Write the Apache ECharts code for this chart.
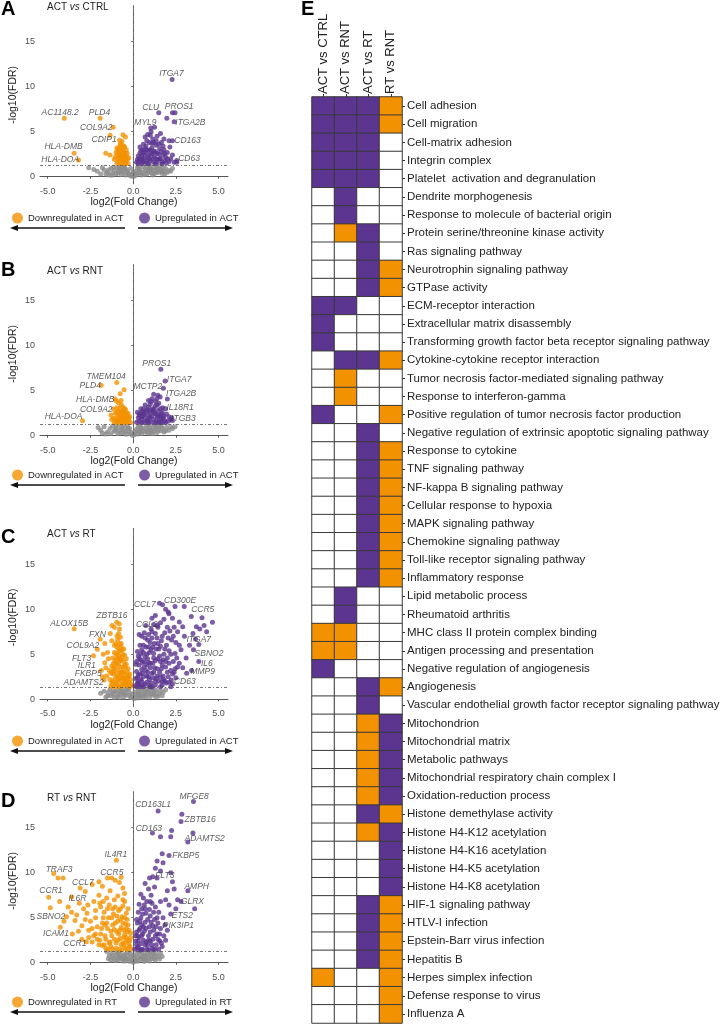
<!DOCTYPE html>
<html><head><meta charset="utf-8">
<script src="https://cdn.jsdelivr.net/npm/echarts@6/dist/echarts.min.js"></script>
<style>html,body{margin:0;padding:0;background:#fff}#c{width:725px;height:1024px}</style>
</head><body><div id="c"></div>
<script>
// ---------- axis ticks ----------
const xTicks = [-5, -2.5, 0, 2.5, 5];
const yTicks = [0, 5, 10, 15];
const fdrCut = 1.3;

// ---------- Panel A: ACT vs CTRL ----------
const A_gray = [[-2.6,1.0],[-2.1,0.6],[-1.7,0.75],[-1.5,0.5],[-1.3,0.9],[-1.2,0.4],[-1.1,0.7],[-1.0,0.3],[-0.95,1.0],[-0.85,0.55],[-0.75,0.8],[-0.7,0.25],[-0.6,1.1],[-0.55,0.5],[-0.45,0.2],[-0.4,0.8],[-0.3,0.4],[-0.2,0.15],[-0.15,0.9],[-0.1,0.05],[0.05,0.05],[0.1,0.6],[0.2,0.2],[0.25,1.0],[0.3,0.4],[0.4,0.7],[0.5,0.2],[0.55,1.1],[0.6,0.5],[0.7,0.8],[0.8,0.3],[0.9,0.6],[0.95,1.0],[1.05,0.45],[1.1,0.8],[1.2,0.3],[1.3,0.65],[1.4,1.0],[1.5,0.5],[1.6,0.8],[1.7,0.35],[1.8,0.6],[1.9,0.9],[2.0,0.5],[2.3,0.9],[-0.8,1.2],[0.3,1.2],[1.0,1.2],[-1.9,0.3],[2.1,0.7],[-1.4,0.2],[0.0,0.5],[-0.5,1.25],[1.55,1.2],[-1.6,0.3],[-1.45,0.75],[-1.25,0.15],[-1.15,1.05],[-0.9,0.4],[-0.8,0.9],[-0.65,0.6],[-0.5,0.95],[-0.35,0.6],[-0.25,0.3],[-0.05,0.3],[0.15,0.35],[0.35,0.8],[0.45,0.4],[0.65,0.25],[0.75,1.0],[0.85,0.5],[1.0,0.75],[1.15,0.2],[1.25,1.0],[1.35,0.45],[1.45,0.8],[1.65,0.6],[1.75,1.0],[1.85,0.3],[2.2,0.6],[-1.8,1.0],[-2.3,0.8]];
const A_down = [[-4.03,6.5],[-1.93,6.5],[-1.17,5.5],[-1.35,4.6],[-3.45,2.6],[-3.2,1.85],[-1.6,2.6],[-1.35,2.4],[-0.6,4.65],[-0.45,4.4],[-0.8,4.05],[-0.72,3.6],[-0.95,3.2],[-0.85,2.9],[-0.8,3.3],[-0.75,2.5],[-0.7,3.0],[-0.65,2.2],[-0.6,2.8],[-0.55,3.4],[-0.5,2.0],[-0.48,2.6],[-0.45,1.7],[-0.4,3.0],[-0.4,2.3],[-0.9,2.0],[-0.85,1.6],[-0.7,1.8],[-0.6,1.5],[-0.55,2.4],[-0.75,3.6],[-0.65,3.9],[-0.5,3.3],[-0.45,1.45],[-0.35,1.9],[-0.35,2.6],[-0.9,2.5],[-0.8,2.2],[-1.0,2.7],[-1.05,2.2],[-0.6,2.0],[-0.7,1.4],[-0.95,1.5],[-1.1,1.9],[-0.3,1.5],[-0.25,2.1],[-0.9,3.0],[-0.75,2.1],[-0.6,3.1],[-0.55,1.8],[-0.5,2.4],[-0.4,2.0],[-0.65,2.6],[-0.8,1.8],[-0.85,2.4],[-0.7,2.4]];
const A_up = [[2.28,10.8],[1.5,7.1],[2.3,7.1],[2.45,7.1],[2.4,6.1],[1.97,6.5],[1.03,5.4],[1.25,5.5],[2.1,4.0],[2.3,4.0],[2.55,1.8],[2.55,1.6],[0.3,1.5],[0.35,2.0],[0.4,2.6],[0.45,1.8],[0.5,2.3],[0.55,3.0],[0.6,1.6],[0.65,2.0],[0.7,2.7],[0.75,3.4],[0.8,1.5],[0.85,2.2],[0.9,2.9],[0.95,3.8],[1.0,1.8],[1.05,2.5],[1.1,3.2],[1.15,4.2],[1.2,1.6],[1.25,2.2],[1.3,2.8],[1.35,3.5],[1.4,4.5],[1.45,1.9],[1.5,2.5],[1.55,3.1],[1.6,2.0],[1.65,3.8],[1.7,1.6],[1.75,2.4],[1.8,3.0],[1.85,1.8],[1.9,2.2],[1.95,1.5],[2.0,2.7],[2.1,1.7],[2.2,2.0],[0.4,3.3],[0.6,3.6],[0.8,4.0],[1.0,4.6],[1.2,3.8],[0.5,1.45],[0.9,1.45],[1.3,1.45],[1.7,1.45],[0.25,1.9],[0.7,4.4],[1.05,5.0],[0.85,4.7],[1.6,4.8],[1.8,4.2],[2.15,3.3],[2.4,1.6],[2.3,2.4],[0.2,1.6],[1.4,1.6],[0.95,2.0],[1.15,2.6],[0.65,2.4],[0.3,2.3],[0.45,2.9],[0.55,1.8],[0.6,2.7],[0.75,1.8],[0.8,3.0],[0.9,2.4],[1.0,3.0],[1.1,2.0],[1.2,2.8],[1.3,2.0],[1.4,2.6],[1.5,3.6],[1.55,2.0],[1.65,2.8],[1.75,3.4],[1.85,2.6],[2.0,2.0],[0.7,3.1],[1.1,3.7],[1.35,4.0],[0.5,2.0]];
const A_labels = [['ITGA7',2.24,11.4],['AC1148.2',-4.27,7.16],['PLD4',-1.97,7.16],['COL9A2',-2.16,5.46],['CDIP1',-1.7,4.17],['HLA-DMB',-4.07,3.32],['HLA-DOA',-4.27,1.85],['CLU',1.03,7.64],['PROS1',2.69,7.75],['MYL9',0.72,5.98],['ITGA2B',3.35,5.98],['CD163',3.18,3.99],['CD63',3.27,1.96]];

// ---------- Panel B: ACT vs RNT ----------
const B_gray = [[-2.05,0.9],[-1.9,0.6],[-1.7,1.0],[-1.5,0.4],[-1.35,0.8],[-1.2,1.1],[-1.1,0.5],[-1.0,0.85],[-0.9,0.25],[-0.8,0.6],[-0.7,1.0],[-0.6,0.35],[-0.5,0.75],[-0.4,0.15],[-0.35,1.1],[-0.25,0.5],[-0.15,0.2],[-0.05,0.05],[0.05,0.1],[0.15,0.5],[0.25,0.2],[0.3,1.0],[0.4,0.55],[0.5,0.25],[0.6,0.85],[0.7,0.4],[0.8,1.1],[0.9,0.6],[1.0,0.3],[1.1,0.9],[1.2,0.5],[1.3,0.75],[1.4,0.35],[1.5,1.0],[1.6,0.55],[1.7,0.8],[1.8,0.4],[1.95,0.9],[2.1,0.6],[2.3,0.8],[2.45,1.0],[-1.6,0.2],[-0.6,1.2],[0.4,1.2],[1.25,1.2],[-0.2,0.8],[0.2,0.75],[-1.8,0.3],[-1.3,0.25],[-1.05,0.65],[-0.95,1.1],[-0.75,0.3],[-0.65,0.75],[-0.45,0.45],[-0.3,0.85],[-0.1,0.35],[0.1,0.3],[0.35,0.35],[0.45,0.85],[0.55,0.5],[0.75,0.7],[0.85,0.3],[0.95,0.95],[1.05,0.55],[1.15,0.25],[1.35,1.0],[1.45,0.6],[1.65,1.05],[1.9,0.55],[2.2,1.0]];
const B_down = [[-0.96,5.9],[-1.87,5.6],[-0.53,5.1],[-0.76,4.67],[-1.05,4.07],[-0.98,3.85],[-0.85,3.65],[-0.7,3.9],[-1.15,2.96],[-2.96,1.67],[-1.3,2.3],[-1.25,1.8],[-1.1,1.5],[-1.0,2.0],[-0.95,2.6],[-0.9,1.7],[-0.85,2.3],[-0.8,3.0],[-0.75,1.5],[-0.7,2.0],[-0.65,2.7],[-0.6,3.2],[-0.55,1.6],[-0.5,2.2],[-0.45,2.9],[-0.4,1.5],[-0.35,1.9],[-0.3,2.5],[-0.25,1.6],[-0.2,2.1],[-0.15,1.45],[-0.6,1.4],[-0.9,1.4],[-1.05,2.5],[-0.75,2.5],[-0.55,2.6],[-0.45,1.8],[-0.65,1.8],[-0.85,1.9],[-0.4,2.5],[-0.7,3.4],[-0.5,3.0],[-0.3,2.1],[-1.15,1.9],[-0.95,3.1],[-0.8,1.6],[-1.0,1.6],[-0.85,2.7],[-0.7,2.3],[-0.6,1.8],[-0.55,2.9],[-0.35,1.6],[-0.5,1.9],[-0.75,2.1],[-0.45,2.4],[-0.25,1.9]];
const B_up = [[1.62,7.37],[1.87,6.07],[1.77,5.26],[2.0,4.07],[1.58,4.3],[1.38,4.1],[1.73,3.1],[1.9,3.0],[2.26,2.0],[2.2,1.8],[2.3,1.7],[1.2,4.6],[1.1,4.1],[1.3,3.8],[0.9,3.9],[1.45,4.5],[1.5,3.6],[0.2,1.5],[0.3,2.0],[0.35,1.6],[0.4,2.5],[0.5,1.8],[0.55,2.2],[0.6,3.0],[0.65,1.5],[0.7,2.0],[0.75,2.7],[0.8,1.6],[0.85,2.3],[0.9,3.2],[0.95,1.9],[1.0,2.6],[1.05,1.5],[1.1,2.2],[1.15,3.0],[1.2,1.8],[1.25,2.5],[1.3,3.3],[1.35,1.6],[1.4,2.1],[1.45,2.8],[1.5,1.5],[1.55,2.3],[1.6,3.0],[1.65,1.9],[1.7,2.6],[1.75,1.5],[1.8,2.2],[1.85,1.7],[1.95,2.4],[2.05,1.6],[2.1,2.1],[0.45,3.0],[0.7,3.4],[1.0,3.5],[0.25,2.6],[0.5,1.45],[0.9,1.45],[1.3,1.45],[1.6,1.45],[1.9,1.45],[0.6,2.5],[1.15,2.7],[1.4,3.4],[0.8,2.9],[1.05,3.8],[0.35,2.3],[0.45,2.1],[0.65,2.4],[0.85,1.7],[1.0,2.1],[1.2,2.9],[1.35,2.4],[1.55,1.8],[1.75,2.0],[0.95,2.8],[0.55,2.7],[1.45,2.2],[1.65,2.4]];
const B_labels = [['PROS1',1.38,8.0],['ITGA7',2.69,6.19],['MCTP2',0.86,5.44],['ITGA2B',2.81,4.63],['IL18R1',2.75,3.11],['ITGB3',2.94,1.93],['TMEM104',-1.58,6.56],['PLD4',-2.51,5.52],['HLA-DMB',-2.22,3.96],['COL9A2',-2.16,2.93],['HLA-DOA',-4.07,2.11]];

// ---------- Panel C: ACT vs RT ----------
const C_gray = [[-1.9,0.67],[-1.7,0.9],[-1.5,0.4],[-1.35,1.1],[-1.2,0.6],[-1.05,0.9],[-0.95,0.3],[-0.85,1.0],[-0.75,0.55],[-0.65,1.2],[-0.55,0.25],[-0.45,0.8],[-0.35,0.45],[-0.25,1.1],[-0.15,0.2],[-0.05,0.6],[0.05,0.1],[0.1,0.8],[0.2,0.35],[0.3,1.1],[0.4,0.6],[0.5,0.2],[0.6,0.9],[0.7,0.45],[0.8,1.15],[0.9,0.7],[1.0,0.3],[1.1,0.95],[1.2,0.55],[1.35,1.0],[1.5,0.6],[1.6,0.96],[1.75,0.75],[1.9,1.05],[-1.1,0.2],[0.95,1.25],[-0.3,1.25],[0.3,0.6],[-0.6,0.7],[1.3,0.3],[-1.6,0.25],[-1.45,0.75],[-1.3,0.4],[-1.15,0.85],[-0.9,0.6],[-0.8,0.2],[-0.7,0.9],[-0.5,0.5],[-0.4,1.05],[-0.2,0.65],[-0.1,0.25],[0.15,0.55],[0.25,0.15],[0.35,0.85],[0.45,0.35],[0.55,1.15],[0.65,0.65],[0.75,0.25],[0.85,0.9],[1.05,0.6],[1.15,1.2],[1.25,0.8],[1.45,0.35],[1.7,0.4]];
const C_down = [[-3.45,7.85],[-0.96,8.55],[-0.82,8.4],[-1.1,8.0],[-1.24,8.2],[-1.93,6.67],[-2.1,5.55],[-2.32,4.85],[-1.66,4.07],[-1.86,3.2],[-1.7,2.15],[-1.34,7.3],[-1.66,6.2],[-1.5,5.2],[-1.75,5.0],[-1.45,4.5],[-1.6,3.5],[-1.55,2.6],[-1.8,2.5],[-1.25,6.5],[-1.3,1.5],[-1.2,2.0],[-1.15,2.8],[-1.1,3.5],[-1.05,4.3],[-1.0,5.0],[-0.95,5.8],[-0.9,6.6],[-0.85,7.3],[-0.8,7.8],[-1.25,1.9],[-1.2,3.0],[-1.15,4.0],[-1.1,5.2],[-1.0,6.2],[-0.95,7.0],[-0.75,6.9],[-0.7,6.2],[-0.65,5.5],[-0.9,1.5],[-0.85,2.2],[-0.8,2.9],[-0.75,3.6],[-0.7,4.4],[-0.65,3.1],[-0.6,2.4],[-0.55,1.7],[-0.5,2.8],[-0.45,3.5],[-0.4,2.1],[-0.35,1.5],[-0.3,2.6],[-0.25,1.9],[-0.2,1.4],[-0.15,2.2],[-0.1,1.5],[-1.0,1.8],[-0.95,2.5],[-0.9,3.3],[-0.85,4.0],[-0.8,4.8],[-0.75,5.4],[-0.7,1.6],[-0.65,2.0],[-0.6,3.6],[-0.55,4.2],[-0.5,4.9],[-0.45,2.3],[-0.4,3.9],[-0.35,3.0],[-0.3,1.8],[-0.6,5.0],[-0.55,3.0],[-0.5,1.5],[-1.05,2.3],[-1.1,1.6],[-0.95,4.6],[-0.85,5.5],[-0.8,6.1],[-0.9,5.1],[-1.2,4.6],[-1.25,3.7],[-1.3,2.9],[-1.35,2.2],[-1.4,3.2],[-0.7,3.0],[-0.75,2.4],[-0.4,4.5],[-0.3,3.4],[-0.2,2.8],[-0.15,1.7],[-1.2,1.4],[-1.0,1.4],[-0.8,1.4],[-1.05,3.0],[-0.95,3.8],[-0.85,4.5],[-0.75,4.3],[-0.65,4.7],[-0.55,2.3],[-0.45,1.9],[-0.35,2.4],[-0.25,2.5],[-0.65,2.6],[-0.85,2.6],[-1.15,3.4],[-1.0,4.0],[-0.9,2.0],[-0.7,5.8],[-1.1,6.0],[-0.55,5.6],[-0.5,3.8]];
const C_up = [[1.54,10.67],[2.45,10.3],[2.99,10.3],[1.72,10.5],[3.4,9.2],[4.03,9.07],[4.64,8.55],[4.15,8.2],[3.7,8.07],[2.9,8.07],[1.42,8.2],[2.05,9.7],[2.1,9.5],[3.65,6.7],[3.84,6.1],[3.53,5.5],[3.84,4.2],[3.42,3.2],[3.13,2.9],[2.23,2.15],[3.0,7.0],[3.3,6.0],[2.8,5.5],[3.1,4.6],[2.7,4.0],[3.5,7.3],[2.6,7.5],[2.5,6.3],[2.9,3.5],[2.4,3.0],[4.3,7.5],[3.9,7.8],[2.7,8.6],[2.3,9.0],[1.9,10.0],[1.3,9.3],[1.1,9.0],[0.1,1.5],[0.15,2.3],[0.2,3.1],[0.25,1.8],[0.3,2.7],[0.35,3.8],[0.4,1.4],[0.45,2.2],[0.5,3.3],[0.2,4.2],[0.3,4.8],[0.45,4.4],[0.5,5.5],[0.55,1.6],[0.6,2.5],[0.65,3.6],[0.7,4.7],[0.75,5.8],[0.8,1.9],[0.85,3.0],[0.9,4.1],[0.95,5.2],[1.0,6.3],[0.6,6.0],[0.7,6.8],[0.9,7.2],[0.55,4.1],[0.8,2.6],[0.95,1.5],[1.05,1.8],[1.1,2.9],[1.15,4.0],[1.2,5.1],[1.25,6.2],[1.3,7.3],[1.35,2.3],[1.4,3.4],[1.45,4.5],[1.5,5.6],[1.05,7.8],[1.2,8.3],[1.4,6.8],[1.1,1.4],[1.3,1.6],[1.45,8.0],[1.5,2.0],[1.55,3.0],[1.6,4.2],[1.65,6.5],[1.7,1.6],[1.75,2.6],[1.8,5.0],[1.85,7.4],[1.9,3.6],[1.95,1.8],[2.0,4.6],[1.6,8.5],[1.8,8.9],[1.95,6.0],[1.7,3.8],[2.05,2.5],[2.1,5.4],[2.2,3.2],[2.25,6.6],[2.3,1.7],[2.35,4.2],[2.45,5.1],[2.5,2.4],[2.6,3.6],[2.7,6.0],[2.15,7.6],[2.4,8.0],[2.55,4.6],[2.2,1.4],[2.0,8.0],[0.25,5.3],[0.4,6.0],[0.65,7.4],[0.85,6.6],[1.0,3.5],[1.2,3.0],[0.4,2.8],[0.6,1.4],[0.8,3.8],[1.3,4.3],[1.6,2.5],[1.15,5.8],[0.5,7.0],[0.75,8.2],[0.35,1.6],[1.85,2.0],[0.15,3.9],[0.25,2.4],[0.35,4.5],[0.45,5.0],[0.55,2.9],[0.65,4.2],[0.7,1.7],[0.75,3.2],[0.85,4.5],[0.9,5.8],[0.95,2.2],[1.0,4.0],[1.05,5.5],[1.1,6.8],[1.15,2.4],[1.2,4.6],[1.25,3.5],[1.35,5.6],[1.4,2.6],[1.45,6.2],[1.55,4.8],[1.6,5.9],[1.65,3.4],[1.7,7.0],[1.75,4.4],[1.8,2.2],[1.85,5.6],[1.9,4.2],[2.0,3.0],[2.05,6.8],[2.1,4.0],[2.2,5.0],[2.3,2.8],[2.35,7.0],[2.45,3.4],[0.3,1.9],[0.5,2.0],[0.9,2.5],[1.3,2.0],[1.7,2.0],[2.1,1.9],[0.2,1.4],[1.0,1.4],[1.6,1.4],[0.6,5.2],[0.8,5.0],[1.1,7.5],[0.35,7.2]];
const C_labels = [['ALOX15B',-3.74,8.37],['ZBTB16',-1.25,9.33],['FXN',-2.09,7.15],['COL9A2',-2.94,5.96],['FLT3',-3.02,4.48],['ILR1',-2.71,3.74],['FKBP5',-2.63,2.81],['ADAMTS2',-2.9,1.89],['CCL7',0.68,10.48],['CD300E',2.75,10.93],['CCR5',4.07,10.0],['CCL2',0.8,8.3],['ITGA7',3.84,6.67],['SBNO2',4.44,5.04],['IL6',4.31,4.0],['MMP9',4.07,3.11],['CD63',3.02,1.96]];

// ---------- Panel D: RT vs RNT ----------
const D_gray = [[-1.55,1.25],[-1.4,0.8],[-1.25,1.1],[-1.15,0.5],[-1.0,0.9],[-0.9,0.3],[-0.8,1.15],[-0.7,0.6],[-0.6,0.2],[-0.5,0.95],[-0.4,0.45],[-0.3,1.2],[-0.2,0.15],[-0.1,0.7],[0.0,0.05],[0.1,0.4],[0.2,1.0],[0.3,0.2],[0.4,0.7],[0.5,1.2],[0.6,0.4],[0.7,0.9],[0.8,0.25],[0.9,0.6],[1.0,1.1],[1.1,0.45],[1.2,0.85],[1.3,0.3],[1.45,0.7],[1.7,0.7],[1.6,1.05],[-1.3,0.3],[-0.5,0.5],[0.6,0.8],[-0.9,0.7],[0.95,0.2],[-1.45,0.45],[-1.2,0.75],[-1.05,0.25],[-0.95,1.2],[-0.85,0.5],[-0.75,0.9],[-0.65,0.4],[-0.55,0.75],[-0.45,0.2],[-0.35,0.8],[-0.25,0.45],[-0.15,1.0],[-0.05,0.3],[0.05,0.75],[0.15,0.15],[0.25,0.55],[0.35,1.15],[0.45,0.35],[0.55,0.65],[0.65,0.15],[0.75,0.55],[0.85,1.05],[1.05,0.7],[1.15,1.1],[1.25,0.5],[1.35,0.95],[1.55,0.4]];
const D_down = [[-0.98,11.37],[-4.65,9.9],[-4.4,9.4],[-4.1,9.4],[-1.5,9.4],[-1.25,9.4],[-1.05,9.15],[-3.1,8.3],[-2.8,7.9],[-4.94,7.26],[-3.15,6.6],[-3.9,5.1],[-4.85,6.1],[-4.26,3.93],[-3.56,3.2],[-2.74,2.33],[-4.3,6.8],[-3.8,6.2],[-3.6,5.6],[-3.3,5.3],[-3.4,4.7],[-3.0,4.1],[-2.6,3.6],[-2.3,3.0],[-4.05,4.6],[-2.7,5.5],[-2.3,6.8],[-2.0,7.5],[-1.8,8.5],[-0.8,8.9],[-0.6,8.3],[-0.5,7.7],[-0.7,9.5],[-1.9,6.2],[-2.5,4.6],[-2.1,4.0],[-2.9,6.0],[-3.6,7.3],[-2.4,8.7],[-2.0,9.0],[-2.0,2.0],[-1.9,3.2],[-1.8,4.4],[-1.7,5.6],[-1.6,2.6],[-1.5,3.8],[-1.45,5.0],[-1.4,6.4],[-1.3,1.8],[-1.25,3.0],[-1.2,4.2],[-1.15,5.4],[-1.1,7.0],[-1.0,2.2],[-0.95,3.4],[-0.9,4.6],[-0.85,5.8],[-0.8,1.5],[-0.75,2.7],[-0.7,3.9],[-0.65,5.1],[-0.6,6.3],[-0.55,1.9],[-0.5,3.1],[-0.45,4.3],[-0.4,5.5],[-0.35,1.5],[-0.3,2.5],[-0.25,3.6],[-0.2,1.8],[-0.15,2.8],[-0.1,1.5],[-1.7,2.0],[-1.55,7.2],[-1.35,8.0],[-0.9,7.4],[-0.6,7.0],[-0.35,4.8],[-2.2,5.0],[-2.1,2.6],[-1.95,6.6],[-1.65,4.2],[-1.35,2.3],[-1.05,6.2],[-0.75,4.8],[-0.45,2.3],[-0.3,6.0],[-1.2,1.5],[-0.65,1.4],[-1.45,1.5],[-0.5,6.8],[-0.85,3.2],[-1.1,3.7],[-0.6,2.2],[-0.4,3.8],[-0.25,2.0],[-2.4,2.3],[-2.6,2.8],[-1.95,2.5],[-1.85,3.8],[-1.75,5.0],[-1.65,3.0],[-1.55,4.4],[-1.5,6.0],[-1.4,2.2],[-1.3,3.5],[-1.25,5.0],[-1.2,6.0],[-1.1,2.6],[-1.05,4.4],[-0.95,5.2],[-0.9,2.5],[-0.8,3.6],[-0.75,6.0],[-0.7,2.0],[-0.6,4.4],[-0.55,2.8],[-0.5,5.0],[-0.45,1.6],[-0.4,2.8],[-0.35,3.4],[-0.3,4.2],[-0.2,2.4],[-0.15,3.3],[-0.55,3.6],[-1.0,1.6],[-1.6,1.6],[-1.8,1.9],[-2.2,3.2],[-2.4,3.8],[-2.8,4.8],[-3.2,3.5],[-3.0,2.6],[-2.2,5.8],[-1.75,6.8],[-2.65,6.4]];
const D_up = [[3.53,17.9],[1.46,16.85],[2.85,16.5],[2.8,15.7],[1.13,14.4],[1.6,14.0],[2.25,14.7],[2.2,14.0],[3.5,14.4],[3.2,13.4],[2.1,11.9],[1.7,12.1],[1.4,11.3],[1.75,11.1],[1.4,9.4],[1.15,9.55],[0.96,9.4],[3.2,8.0],[3.6,6.0],[2.5,6.0],[2.2,5.4],[1.86,4.2],[2.8,6.8],[2.6,7.0],[2.3,9.0],[2.0,8.0],[1.9,7.0],[2.2,10.0],[1.6,10.2],[1.3,10.5],[2.4,8.2],[2.1,6.4],[0.1,1.5],[0.15,2.4],[0.2,3.4],[0.25,4.4],[0.3,1.8],[0.35,2.8],[0.4,3.8],[0.45,5.0],[0.5,6.0],[0.55,1.5],[0.6,2.5],[0.65,3.5],[0.7,4.5],[0.75,5.5],[0.8,6.8],[0.85,2.0],[0.9,3.0],[0.95,4.0],[1.0,5.2],[1.05,7.5],[1.1,1.6],[1.15,2.6],[1.2,3.6],[1.25,4.8],[1.3,6.2],[1.35,2.0],[1.4,3.2],[1.45,4.4],[1.5,5.6],[1.55,2.4],[1.6,3.8],[1.7,1.8],[1.8,3.0],[0.3,5.6],[0.6,7.2],[0.9,8.2],[0.7,8.8],[1.1,6.6],[1.25,8.4],[0.5,4.2],[0.2,2.0],[0.8,1.5],[1.0,2.4],[0.4,1.4],[1.3,1.5],[0.65,6.4],[0.35,6.5],[0.95,5.9],[1.6,6.8],[1.75,5.0],[1.9,2.5],[2.0,3.6],[1.5,1.5],[0.55,3.2],[0.75,2.3],[1.15,4.1],[0.25,3.0],[0.15,3.0],[0.2,4.8],[0.3,2.4],[0.35,3.6],[0.4,4.6],[0.45,2.1],[0.5,3.0],[0.55,5.4],[0.6,4.0],[0.7,2.0],[0.75,3.8],[0.85,4.8],[0.9,2.5],[1.0,3.4],[1.05,4.5],[1.1,2.0],[1.2,5.6],[1.3,3.0],[1.35,4.0],[1.45,2.6],[1.55,3.2],[1.65,2.2],[0.5,1.45],[0.9,1.45],[1.2,1.45],[0.25,1.6],[0.7,6.0],[1.0,6.8],[0.45,7.6],[1.4,5.0]];
const D_labels = [['MFGE8',3.57,18.44],['CD163L1',1.17,17.52],['ZBTB16',3.92,15.85],['CD163',0.92,14.93],['ADAMTS2',4.19,13.81],['FKBP5',3.08,11.89],['IL4R1',-1.01,11.96],['TRAF3',-4.33,10.37],['CCR5',-1.25,10.04],['CCL7',-2.94,8.89],['FLT3',1.85,9.67],['AMPH',3.72,8.44],['CCR1',-4.81,7.96],['IL6R',-3.26,7.15],['GLRX',3.47,6.78],['SBNO2',-4.81,5.11],['ETS2',2.88,5.22],['ICAM1',-4.52,3.26],['PIK3IP1',2.65,4.11],['CCR1',-3.41,2.15]];

const panelLetters = ['A','B','C','D'];
const panelComparisons = [['ACT','CTRL'],['ACT','RNT'],['ACT','RT'],['RT','RNT']];
const downNames = ['Downregulated in ACT','Downregulated in ACT','Downregulated in ACT','Downregulated in RT'];
const upNames = ['Upregulated in ACT','Upregulated in ACT','Upregulated in ACT','Upregulated in RT'];

// ---------- Panel E: enrichment matrix ----------
const comparisons = ['ACT vs CTRL','ACT vs RNT','ACT vs RT','RT vs RNT'];
const terms = ['Cell adhesion','Cell migration','Cell-matrix adhesion','Integrin complex','Platelet  activation and degranulation','Dendrite morphogenesis','Response to molecule of bacterial origin','Protein serine/threonine kinase activity','Ras signaling pathway','Neurotrophin signaling pathway','GTPase activity','ECM-receptor interaction','Extracellular matrix disassembly','Transforming growth factor beta receptor signaling pathway','Cytokine-cytokine receptor interaction','Tumor necrosis factor-mediated signaling pathway','Response to interferon-gamma','Positive regulation of tumor necrosis factor production','Negative regulation of extrinsic apoptotic signaling pathway','Response to cytokine','TNF signaling pathway','NF-kappa B signaling pathway','Cellular response to hypoxia','MAPK signaling pathway','Chemokine signaling pathway','Toll-like receptor signaling pathway','Inflammatory response','Lipid metabolic process','Rheumatoid arthritis','MHC class II protein complex binding','Antigen processing and presentation','Negative regulation of angiogenesis','Angiogenesis','Vascular endothelial growth factor receptor signaling pathway','Mitochondrion','Mitochondrial matrix','Metabolic pathways','Mitochondrial respiratory chain complex I','Oxidation-reduction process','Histone demethylase activity','Histone H4-K12 acetylation','Histone H4-K16 acetylation','Histone H4-K5 acetylation','Histone H4-K8 acetylation','HIF-1 signaling pathway','HTLV-I infection','Epstein-Barr virus infection','Hepatitis B','Herpes simplex infection','Defense response to virus','Influenza A'];
// 0 = not enriched, 1 = up (purple), 2 = down (orange)
const status = [
[1,1,1,2],[1,1,1,2],[1,1,1,0],[1,1,1,0],[1,1,1,0],
[0,1,0,0],[0,1,0,0],[0,2,1,0],[0,0,1,0],[0,0,1,2],[0,0,1,2],
[1,1,0,0],[1,0,0,0],[1,0,0,0],[0,1,1,2],[0,2,0,0],[0,2,0,0],[1,0,0,2],
[0,0,1,0],[0,0,1,2],[0,0,1,2],[0,0,1,2],[0,0,1,2],[0,0,1,2],[0,0,1,2],[0,0,1,2],[0,0,1,2],
[0,1,0,0],[0,1,0,0],[2,2,0,0],[2,2,0,0],[1,0,0,0],[0,0,1,2],[0,0,1,0],
[0,0,2,1],[0,0,2,1],[0,0,2,1],[0,0,2,1],[0,0,2,1],[0,0,1,2],[0,0,2,1],[0,0,0,1],[0,0,0,1],[0,0,0,1],
[0,0,1,2],[0,0,1,2],[0,0,1,2],[0,0,1,2],[2,0,0,2],[0,0,0,2],[0,0,0,2]
];

// ---------- build ----------
const FONT = "'Liberation Sans', Arial, sans-serif";
const PURPLE = '#5b3590', ORANGE = '#f39200', GRAY = '#8c8c8c';
const cellColors = ['#ffffff', PURPLE, ORANGE];

const grays = [A_gray,B_gray,C_gray,D_gray];
const downs = [A_down,B_down,C_down,D_down];
const ups = [A_up,B_up,C_up,D_up];
const labs = [A_labels,B_labels,C_labels,D_labels];

const zeroY = [176.7, 435.7, 699.3, 962.7];
const letterTop = [-1, 260, 527, 791];
const subCenter = [8, 272, 535, 799];
const legendCenter = [218, 475, 741, 1002];
const arrowY = [228, 485, 751, 1012];

const grid=[], xAxis=[], yAxis=[], series=[], title=[], legend=[], graphic=[];
const pxPerUnit = 9;
const DOT = 5;
for (let i=0;i<4;i++){
  const top = zeroY[i] - 19*pxPerUnit;
  grid.push({left:40, top:top, width:188, height:19.8*pxPerUnit});
  xAxis.push({gridIndex:i, type:'value', min:-5.45, max:5.55,
    name:'log2(Fold Change)', nameLocation:'middle', nameGap:11,
    nameTextStyle:{fontSize:10.5, color:'#222', fontFamily:FONT},
    axisLine:{lineStyle:{color:'#555', width:1}},
    axisTick:{show:true, length:2, customValues:xTicks, lineStyle:{color:'#555'}},
    axisLabel:{customValues:xTicks, margin:3, fontSize:9, color:'#4d4d4d', fontFamily:FONT, formatter:v=>v.toFixed(1)},
    splitLine:{show:false}});
  yAxis.push({gridIndex:i, type:'value', min:-0.8, max:19,
    name:'-log10(FDR)', nameLocation:'middle', nameGap:21, nameRotate:90,
    nameTextStyle:{fontSize:10.5, color:'#222', fontFamily:FONT},
    axisLine:{show:true, lineStyle:{color:'#777', width:1}},
    axisTick:{show:true, length:2, customValues:yTicks, lineStyle:{color:'#777'}},
    axisLabel:{customValues:yTicks, margin:5, fontSize:9, color:'#4d4d4d', fontFamily:FONT},
    splitLine:{show:false}});
  series.push({type:'scatter', name:'Not significant', xAxisIndex:i, yAxisIndex:i, data:grays[i], symbolSize:DOT,
    itemStyle:{color:GRAY}, silent:true, z:2,
    markLine:{silent:true, symbol:['none','none'], label:{show:false},
      lineStyle:{color:'#555', width:0.8, type:[3,2,1,2]},
      data:[{xAxis:0},{yAxis:fdrCut}]}});
  series.push({type:'scatter', name:downNames[i], xAxisIndex:i, yAxisIndex:i, data:downs[i], symbolSize:DOT, itemStyle:{color:ORANGE}, z:3});
  series.push({type:'scatter', name:upNames[i], xAxisIndex:i, yAxisIndex:i, data:ups[i], symbolSize:DOT, itemStyle:{color:PURPLE}, z:3});
  series.push({type:'scatter', name:'genes'+i, xAxisIndex:i, yAxisIndex:i, symbolSize:0, silent:true, z:5,
    data:labs[i].map(l=>({name:l[0], value:[l[1],l[2]]})),
    label:{show:true, position:'inside', formatter:'{b}', fontStyle:'italic', fontSize:8.5, color:'#333', fontFamily:FONT}});
  title.push({text:panelLetters[i], left:1, top:letterTop[i], padding:0,
    textStyle:{fontSize:20, fontWeight:'bold', color:'#000', fontFamily:FONT}});
  const cmp = panelComparisons[i];
  title.push({text:'{n|'+cmp[0]+' }{i|vs}{n| '+cmp[1]+'}', left:47, top:subCenter[i]-6, padding:0,
    textStyle:{fontWeight:'normal', fontSize:10, rich:{n:{fontSize:10, fontWeight:'normal', color:'#222', fontFamily:FONT}, i:{fontSize:10, fontWeight:'normal', fontStyle:'italic', color:'#222', fontFamily:FONT}}}});
  legend.push({left:12, top:legendCenter[i]-5.5, padding:0, itemWidth:11, itemHeight:11, icon:'circle', itemGap:5,
    data:[downNames[i]], selectedMode:false, textStyle:{fontSize:9.5, color:'#222', fontFamily:FONT}});
  legend.push({left:139, top:legendCenter[i]-5.5, padding:0, itemWidth:11, itemHeight:11, icon:'circle', itemGap:5,
    data:[upNames[i]], selectedMode:false, textStyle:{fontSize:9.5, color:'#222', fontFamily:FONT}});
  const y = arrowY[i];
  graphic.push({type:'line', shape:{x1:125,y1:y,x2:16,y2:y}, style:{stroke:'#111', lineWidth:1.3}});
  graphic.push({type:'polygon', shape:{points:[[10,y],[18,y-3],[18,y+3]]}, style:{fill:'#111'}});
  graphic.push({type:'line', shape:{x1:138,y1:y,x2:226,y2:y}, style:{stroke:'#111', lineWidth:1.3}});
  graphic.push({type:'polygon', shape:{points:[[233,y],[225,y-3],[225,y+3]]}, style:{fill:'#111'}});
}

// heatmap grid (index 4)
grid.push({left:312, top:97, width:90, height:926});
xAxis.push({gridIndex:4, type:'category', position:'top', data:comparisons,
  axisLine:{show:false}, splitLine:{show:false},
  axisTick:{show:true, alignWithLabel:true, length:3, lineStyle:{color:'#333'}},
  axisLabel:{rotate:-90, margin:3, fontSize:13, color:'#222', fontFamily:FONT}});
yAxis.push({gridIndex:4, type:'category', position:'right', inverse:true, data:terms,
  axisLine:{show:false}, splitLine:{show:false},
  axisTick:{show:true, alignWithLabel:true, length:3, lineStyle:{color:'#333'}},
  axisLabel:{margin:5, fontSize:11.5, color:'#222', fontFamily:FONT}});
const cells = [];
status.forEach((row,r)=>row.forEach((v,c)=>cells.push({value:[c,r,v], itemStyle:{color:cellColors[v]}})));
series.push({type:'heatmap', xAxisIndex:4, yAxisIndex:4, data:cells, silent:true,
  itemStyle:{borderColor:'#3a3a3a', borderWidth:1}});
title.push({text:'E', left:301, top:-1, padding:0, textStyle:{fontSize:20, fontWeight:'bold', color:'#000', fontFamily:FONT}});

const chart = echarts.init(document.getElementById('c'), null, {renderer:'canvas'});
chart.setOption({animation:false, backgroundColor:'#fff', title, legend, grid, xAxis, yAxis, series, graphic});
</script></body></html>
